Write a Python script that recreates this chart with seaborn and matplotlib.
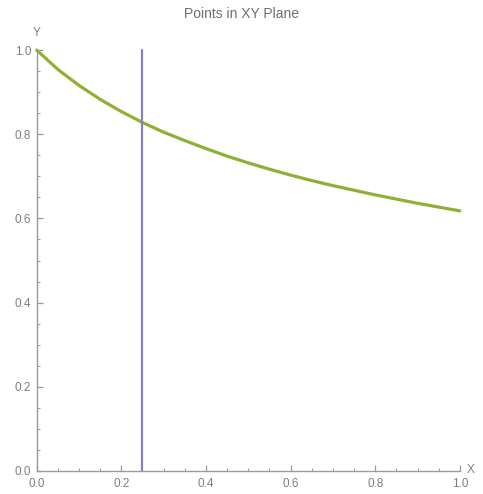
import numpy as np
import pandas as pd
import matplotlib
matplotlib.use("Agg")
import matplotlib.pyplot as plt
import seaborn as sns
from matplotlib.ticker import MultipleLocator

# data
curve_x = [0.0, 0.05, 0.1, 0.15, 0.2, 0.25, 0.3, 0.35, 0.4, 0.45, 0.5,
           0.55, 0.6, 0.65, 0.7, 0.75, 0.8, 0.85, 0.9, 0.95, 1.0]
curve_y = [1.0, 0.954, 0.916, 0.883, 0.854, 0.828, 0.805, 0.785, 0.766, 0.748, 0.732,
           0.717, 0.703, 0.690, 0.678, 0.667, 0.656, 0.646, 0.636, 0.627, 0.618]
vline_x = [0.25, 0.25]
vline_y = [0.0, 1.0]
tick_vals = [0.0, 0.2, 0.4, 0.6, 0.8, 1.0]
tick_labels = ["0.0", "0.2", "0.4", "0.6", "0.8", "1.0"]

sns.set_style("white")
plt.rcParams['font.family'] = ['Liberation Sans', 'DejaVu Sans']

fig = plt.figure(figsize=(4.83, 4.94), dpi=100)
ax = fig.add_axes([0.076, 0.0466, 0.876, 0.852])

df = pd.DataFrame({"x": curve_x, "y": curve_y})
dv = pd.DataFrame({"x": vline_x, "y": vline_y})
sns.lineplot(data=df, x="x", y="y", ax=ax, color="#8fb035", linewidth=2.3,
             estimator=None, sort=False, clip_on=False)
sns.lineplot(data=dv, x="x", y="y", ax=ax, color="#8a7fc0", linewidth=1.6,
             estimator=None, sort=False, clip_on=False)

ax.set_xlim(0, 1)
ax.set_ylim(0, 1)
ax.set_xlabel("")
ax.set_ylabel("")
for s in ["top", "right"]:
    ax.spines[s].set_visible(False)
for s in ["left", "bottom"]:
    ax.spines[s].set_color("#9a9a9a")
    ax.spines[s].set_linewidth(1.0)

ax.set_xticks(tick_vals)
ax.set_xticklabels(tick_labels)
ax.set_yticks(tick_vals)
ax.set_yticklabels(tick_labels)
ax.xaxis.set_minor_locator(MultipleLocator(0.05))
ax.yaxis.set_minor_locator(MultipleLocator(0.05))
ax.tick_params(which="major", direction="in", length=4, width=0.9, color="#9a9a9a",
               labelsize=8.5, labelcolor="#7f7f7f", bottom=True, left=True)
ax.tick_params(axis="x", which="major", pad=5)
ax.tick_params(axis="y", which="major", pad=4)
ax.tick_params(which="minor", direction="in", length=2.5, width=0.7, color="#9a9a9a",
               bottom=True, left=True)

fig.text(0.5, 0.972, "Points in XY Plane", ha="center", va="center",
         fontsize=10, color="#6f6f6f")
fig.text(37 / 483, 1 - 33 / 494, "Y", ha="center", va="center", fontsize=8.5, color="#7f7f7f")
fig.text(471 / 483, 1 - 470 / 494, "X", ha="center", va="center", fontsize=8.5, color="#7f7f7f")

fig.savefig("out.png", dpi=100)
